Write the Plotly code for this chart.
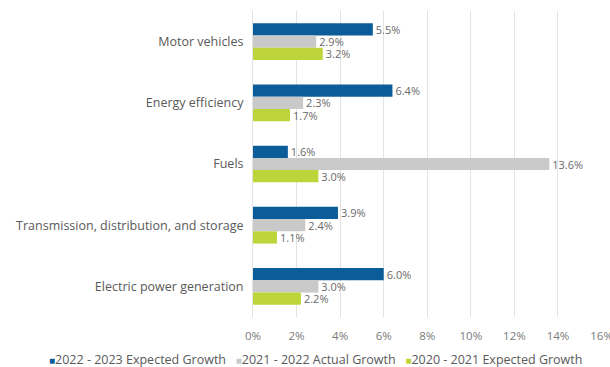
import plotly.graph_objects as go

categories = ["Motor vehicles", "Energy efficiency", "Fuels",
              "Transmission, distribution, and storage", "Electric power generation"]
series_names = ["2022 - 2023 Expected Growth", "2021 - 2022 Actual Growth", "2020 - 2021 Expected Growth"]
growth_2022_2023 = [5.5, 6.4, 1.6, 3.9, 6.0]
growth_2021_2022 = [2.9, 2.3, 13.6, 2.4, 3.0]
growth_2020_2021 = [3.2, 1.7, 3.0, 1.1, 2.2]
tick_vals = [0, 2, 4, 6, 8, 10, 12, 14, 16]
tick_text = ["0%", "2%", "4%", "6%", "8%", "10%", "12%", "14%", "16%"]

colors = ["#0B5D9A", "#C9C9C9", "#BDD53A"]
series = [growth_2022_2023, growth_2021_2022, growth_2020_2021]

fig = go.Figure()
for name, vals, col in zip(series_names, series, colors):
    fig.add_trace(go.Bar(
        y=categories, x=vals, name=name, orientation="h",
        marker=dict(color=col, line=dict(width=0)),
        text=[f"{v:.1f}%" for v in vals], textposition="outside",
        constraintext="none",
        textfont=dict(color="#6A6A6A", size=11), cliponaxis=False,
        showlegend=False,
    ))

# compact legend line (small coloured squares directly before each name)
legend_text = "   ".join(
    f"<span style='color:{c};font-size:10px'>■</span>{n}" for n, c in zip(series_names, colors)
)
fig.add_annotation(
    text=legend_text, xref="paper", yref="paper", x=0.178, y=-0.14,
    xanchor="center", yanchor="middle", showarrow=False,
    font=dict(family="Open Sans", size=12.5, color="#595959"),
)

fig.update_layout(
    width=610, height=367,
    margin=dict(l=253, r=8, t=11, b=50),
    paper_bgcolor="white", plot_bgcolor="white",
    barmode="group", bargap=0.4, bargroupgap=0,
    font=dict(family="Open Sans", size=11, color="#595959"),
    showlegend=False,
    xaxis=dict(range=[0, 16.02], tickvals=tick_vals, ticktext=tick_text,
               showgrid=True, gridcolor="#E3E3E3", gridwidth=1, zeroline=False,
               showline=False, ticklabeloverflow="allow", automargin=False,
               ticklabelstandoff=10,
               tickfont=dict(size=11.5, color="#7A7A7A"), fixedrange=True),
    yaxis=dict(autorange="reversed", showgrid=False, showline=True, linecolor="#E3E3E3",
               ticks="", ticklabelstandoff=6, automargin=False,
               tickfont=dict(size=12.5, color="#595959")),
)

fig.write_html("out.html")
